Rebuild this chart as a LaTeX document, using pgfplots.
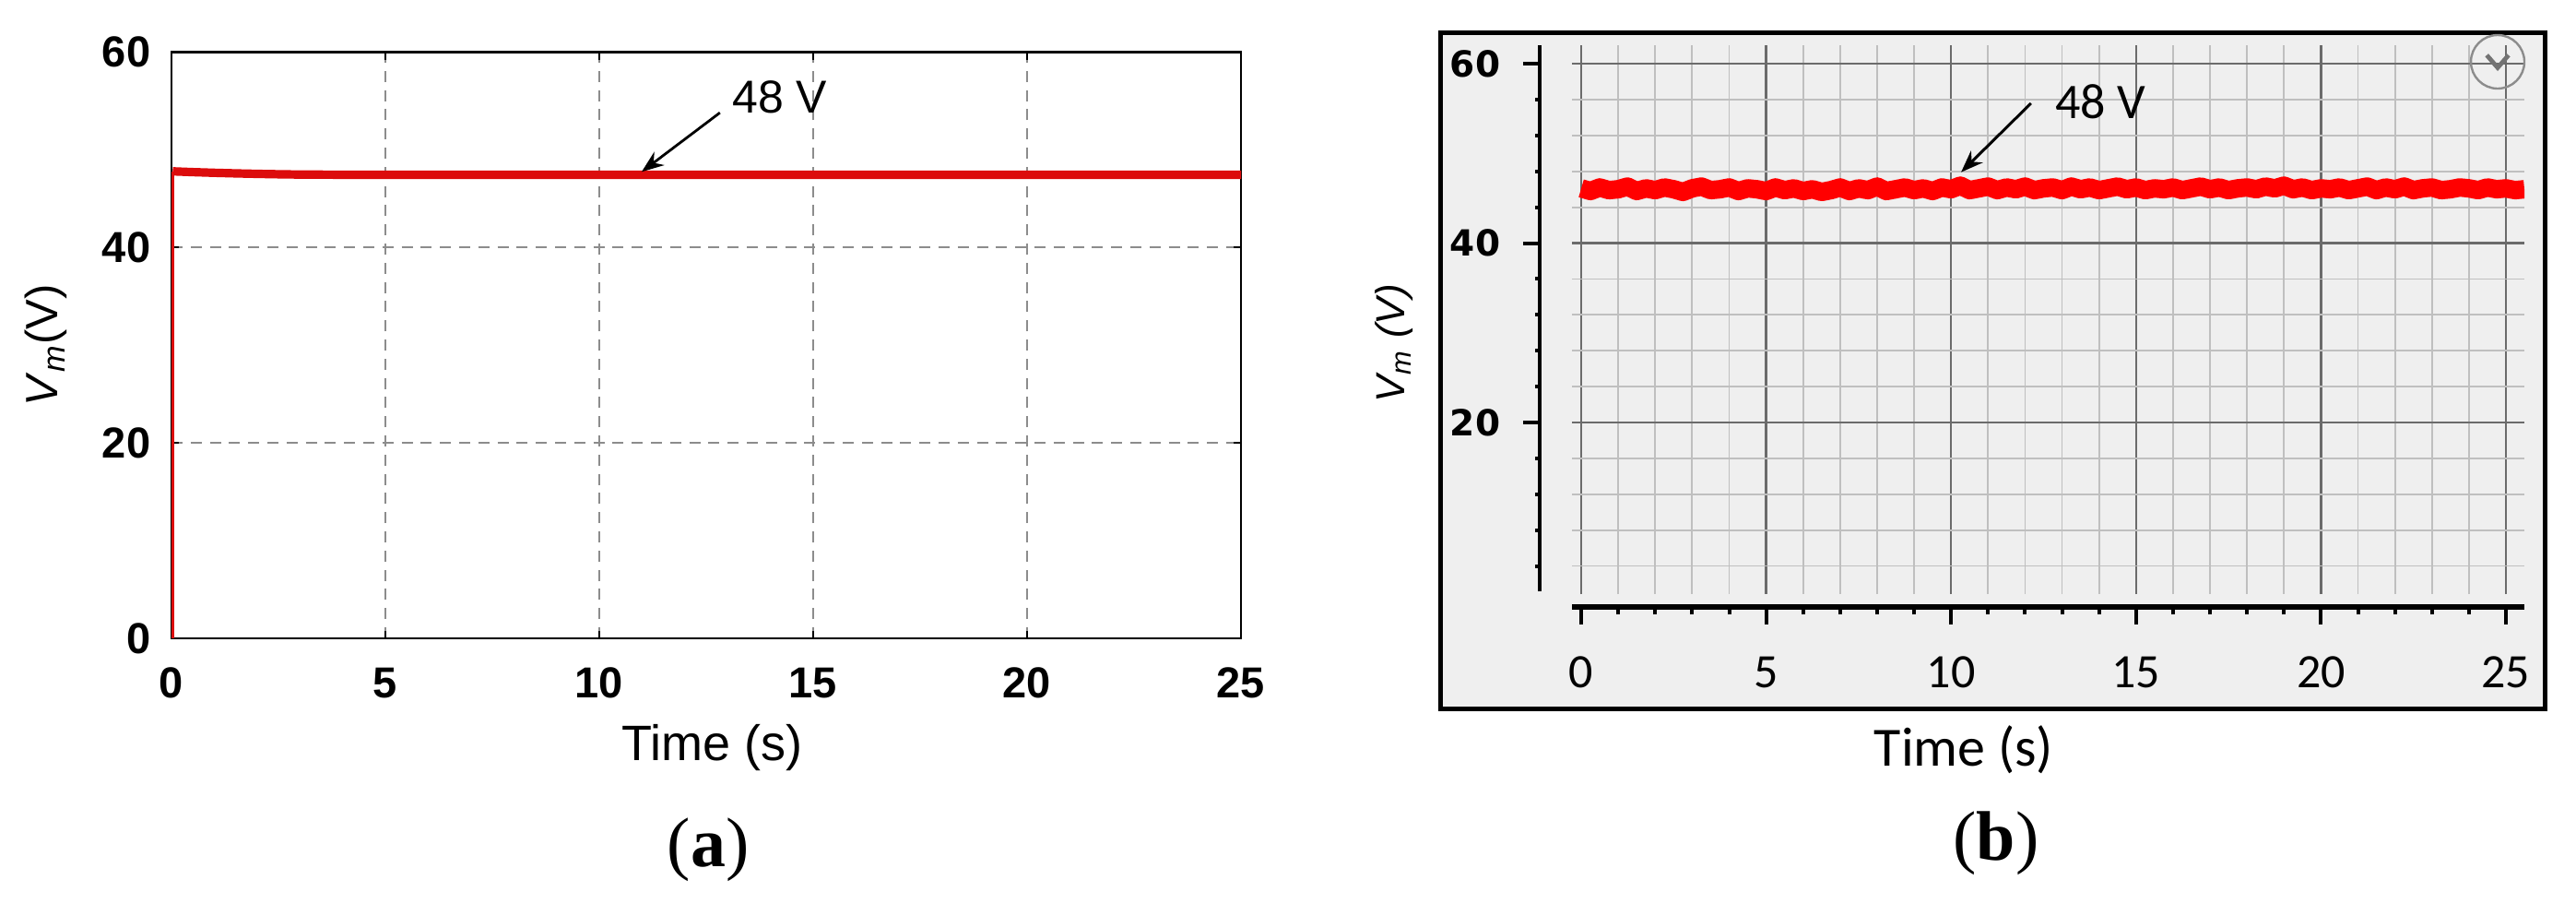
\documentclass[border=0pt]{standalone}
\usepackage{fontspec}
\setmainfont{Liberation Sans}
\newfontfamily\calibri{Carlito}
\newfontfamily\dejavu{DejaVu Sans}
\newfontfamily\serifb{Liberation Serif}
\usepackage{pgfplots}
\pgfplotsset{compat=1.18}
\usetikzlibrary{arrows.meta}
\definecolor{simred}{RGB}{220,12,12}
\definecolor{scopered}{RGB}{255,0,0}
\definecolor{panelgray}{RGB}{239,239,239}

\begin{document}
\begin{tikzpicture}[x=1pt,y=1pt]
\useasboundingbox (0,0) rectangle (698.5,244.75);
% panel (b) background box
\fill[panelgray] (390.5,52.75) rectangle (690,236);
\draw[black, line width=1.25pt] (390.5,52.75) rectangle (690,236);

% ---------------- panel (a) ----------------
\begin{axis}[
  at={(46.5pt,71.75pt)}, anchor=south west, scale only axis,
  width=290pt, height=158.875pt,
  xmin=0, xmax=25, ymin=0, ymax=60,
  xtick={0,5,10,15,20,25}, ytick={0,20,40,60},
  grid=major,
  major grid style={black!45, dash pattern=on 3pt off 2.2pt, line width=0.5pt},
  axis line style={black, line width=0.7pt},
  tick align=inside, major tick length=2pt,
  tick style={black, line width=0.5pt},
  /pgf/number format/assume math mode=true,
  tick label style={font=\fontsize{11.75}{12}\selectfont\bfseries, inner sep=0pt},
  xticklabel style={anchor=north, yshift=-7.75pt},
  yticklabel style={anchor=east, xshift=-5.5pt},
  xlabel={Time (s)},
  ylabel={\textit{V}\textsubscript{\textit{m}}(V)},
  xlabel style={at={(axis description cs:0.506,-0.186)}, anchor=center, font=\fontsize{13.5}{14}\selectfont},
  ylabel style={at={(axis description cs:-0.117,0.5)}, anchor=center, font=\fontsize{12.25}{13}\selectfont},
]
\addplot[simred, line width=0.8pt] coordinates {(0.03,0) (0.03,47.8)};
\addplot[simred, line width=2.3pt, line join=round] coordinates {
 (0.03,47.8) (0.5,47.72) (1,47.65) (1.5,47.59) (2,47.54) (2.5,47.5)
 (3,47.47) (4,47.45) (6,47.44) (25,47.44)};
\draw[-{Stealth[length=6pt,width=4.5pt]}, line width=0.7pt] (axis cs:12.82,53.8) -- (axis cs:10.99,47.75);
\node[font=\fontsize{12.5}{13}\selectfont] at (axis cs:14.22,55.4) {48 V};
\end{axis}

% ---------------- panel (b): grid area ----------------
\begin{axis}[
  at={(426.25pt,83.75pt)}, anchor=south west, scale only axis,
  width=258.25pt, height=148.75pt,
  xmin=-0.25, xmax=25.5, ymin=0.87, ymax=62.06,
  xtick={0,5,10,15,20,25}, minor xtick={0,1,...,25},
  ytick={20,40,60}, minor ytick={4,8,...,60},
  grid=both,
  major grid style={black!58, line width=0.6pt},
  minor grid style={black!25, line width=0.45pt},
  axis line style={draw=none},
  major tick length=0pt, minor tick length=0pt,
  xticklabels={}, yticklabels={},
  xlabel={Time (s)},
  ylabel={V\textsubscript{m} (V)},
  xlabel style={at={(axis description cs:0.4114,-0.284)}, anchor=center, font=\calibri\fontsize{15}{16}\selectfont},
  ylabel style={at={(axis description cs:-0.1868,0.457)}, anchor=center, font=\fontsize{11}{12}\selectfont\itshape},
]
\addplot[scopered, line width=5pt, line join=round] coordinates {
 (0,46.1) (0.25,45.8) (0.5,46.2) (0.75,45.9) (1,46.0) (1.25,46.3) (1.5,45.8) (1.75,46.1)
 (2,45.9) (2.25,46.2) (2.5,46.0) (2.75,45.7) (3,46.1) (3.25,46.3) (3.5,45.9) (3.75,46.0)
 (4,46.2) (4.25,45.8) (4.5,46.1) (4.75,46.0) (5,45.8) (5.25,46.2) (5.5,45.9) (5.75,46.1)
 (6,45.8) (6.25,46.0) (6.5,45.7) (6.75,45.9) (7,46.2) (7.25,45.8) (7.5,46.1) (7.75,45.9)
 (8,46.3) (8.25,45.8) (8.5,46.0) (8.75,46.2) (9,45.9) (9.25,46.1) (9.5,45.8) (9.75,46.2)
 (10,46.0) (10.25,46.4) (10.5,45.9) (10.75,46.1) (11,46.3) (11.25,45.9) (11.5,46.2) (11.75,46.0)
 (12,46.3) (12.25,45.9) (12.5,46.1) (12.75,46.2) (13,45.9) (13.25,46.3) (13.5,46.0) (13.75,46.2)
 (14,45.9) (14.25,46.1) (14.5,46.3) (14.75,46.0) (15,46.2) (15.25,45.9) (15.5,46.1) (15.75,46.0)
 (16,46.2) (16.25,45.9) (16.5,46.1) (16.75,46.3) (17,46.0) (17.25,46.2) (17.5,45.9) (17.75,46.1)
 (18,46.2) (18.25,46.0) (18.5,46.3) (18.75,46.1) (19,46.4) (19.25,46.0) (19.5,46.2) (19.75,45.9)
 (20,46.1) (20.25,46.0) (20.5,46.2) (20.75,45.9) (21,46.1) (21.25,46.3) (21.5,45.9) (21.75,46.2)
 (22,46.0) (22.25,46.3) (22.5,45.9) (22.75,46.1) (23,46.2) (23.25,45.9) (23.5,46.0) (23.75,46.2)
 (24,46.1) (24.25,45.9) (24.5,46.2) (24.75,46.0) (25,46.1) (25.25,45.9) (25.5,46.0)};
\draw[-{Stealth[length=6pt,width=4.5pt]}, line width=0.75pt] (axis cs:12.16,55.58) -- (axis cs:10.27,47.9);
\node[font=\calibri\fontsize{13.5}{14}\selectfont] at (axis cs:14.03,55.78) {48 V};
\end{axis}

% ---------------- panel (b): x axis line ----------------
\begin{axis}[
  at={(426.25pt,80.25pt)}, anchor=south west, scale only axis,
  width=258.25pt, height=1pt,
  xmin=-0.25, xmax=25.5, ymin=0, ymax=1,
  axis x line=bottom, axis y line=none,
  x axis line style={-, line width=1.6pt},
  xtick={0,5,10,15,20,25}, minor xtick={0,1,...,25},
  tick align=outside, major tick length=4.75pt, minor tick length=2pt,
  tick style={black, line width=1pt},
  /pgf/number format/assume math mode=true,
  xticklabel style={font=\calibri\fontsize{13}{14}\selectfont, inner sep=0pt, anchor=north, yshift=-8.5pt},
]
\addplot[draw=none] coordinates {(0,0.5)};
\end{axis}

% ---------------- panel (b): y axis line ----------------
\begin{axis}[
  at={(417.5pt,84.5pt)}, anchor=south west, scale only axis,
  width=1pt, height=148pt,
  xmin=0, xmax=1, ymin=1.18, ymax=62.06,
  axis y line=left, axis x line=none,
  y axis line style={-, line width=1pt},
  ytick={20,40,60}, minor ytick={4,8,...,60},
  tick align=outside, major tick length=4.5pt, minor tick length=1.25pt,
  tick style={black, line width=1pt},
  /pgf/number format/assume math mode=true,
  yticklabel style={font=\dejavu\bfseries\fontsize{9.75}{10}\selectfont, inner sep=0pt, anchor=east, xshift=-6pt},
]
\addplot[draw=none] coordinates {(0.5,30)};
\end{axis}

% scope icon
\draw[black!45, line width=0.6pt] (677.25,228) circle (7.25);
\draw[black!55, line width=1.2pt] (674.3,229.8) -- (677.25,226.4) -- (680.2,229.8);

% panel captions
\node[font=\serifb\fontsize{19}{20}\selectfont] at (192,14.5) {(\textbf{a})};
\node[font=\serifb\fontsize{19}{20}\selectfont] at (541.25,16.25) {(\textbf{b})};
\end{tikzpicture}
\end{document}
